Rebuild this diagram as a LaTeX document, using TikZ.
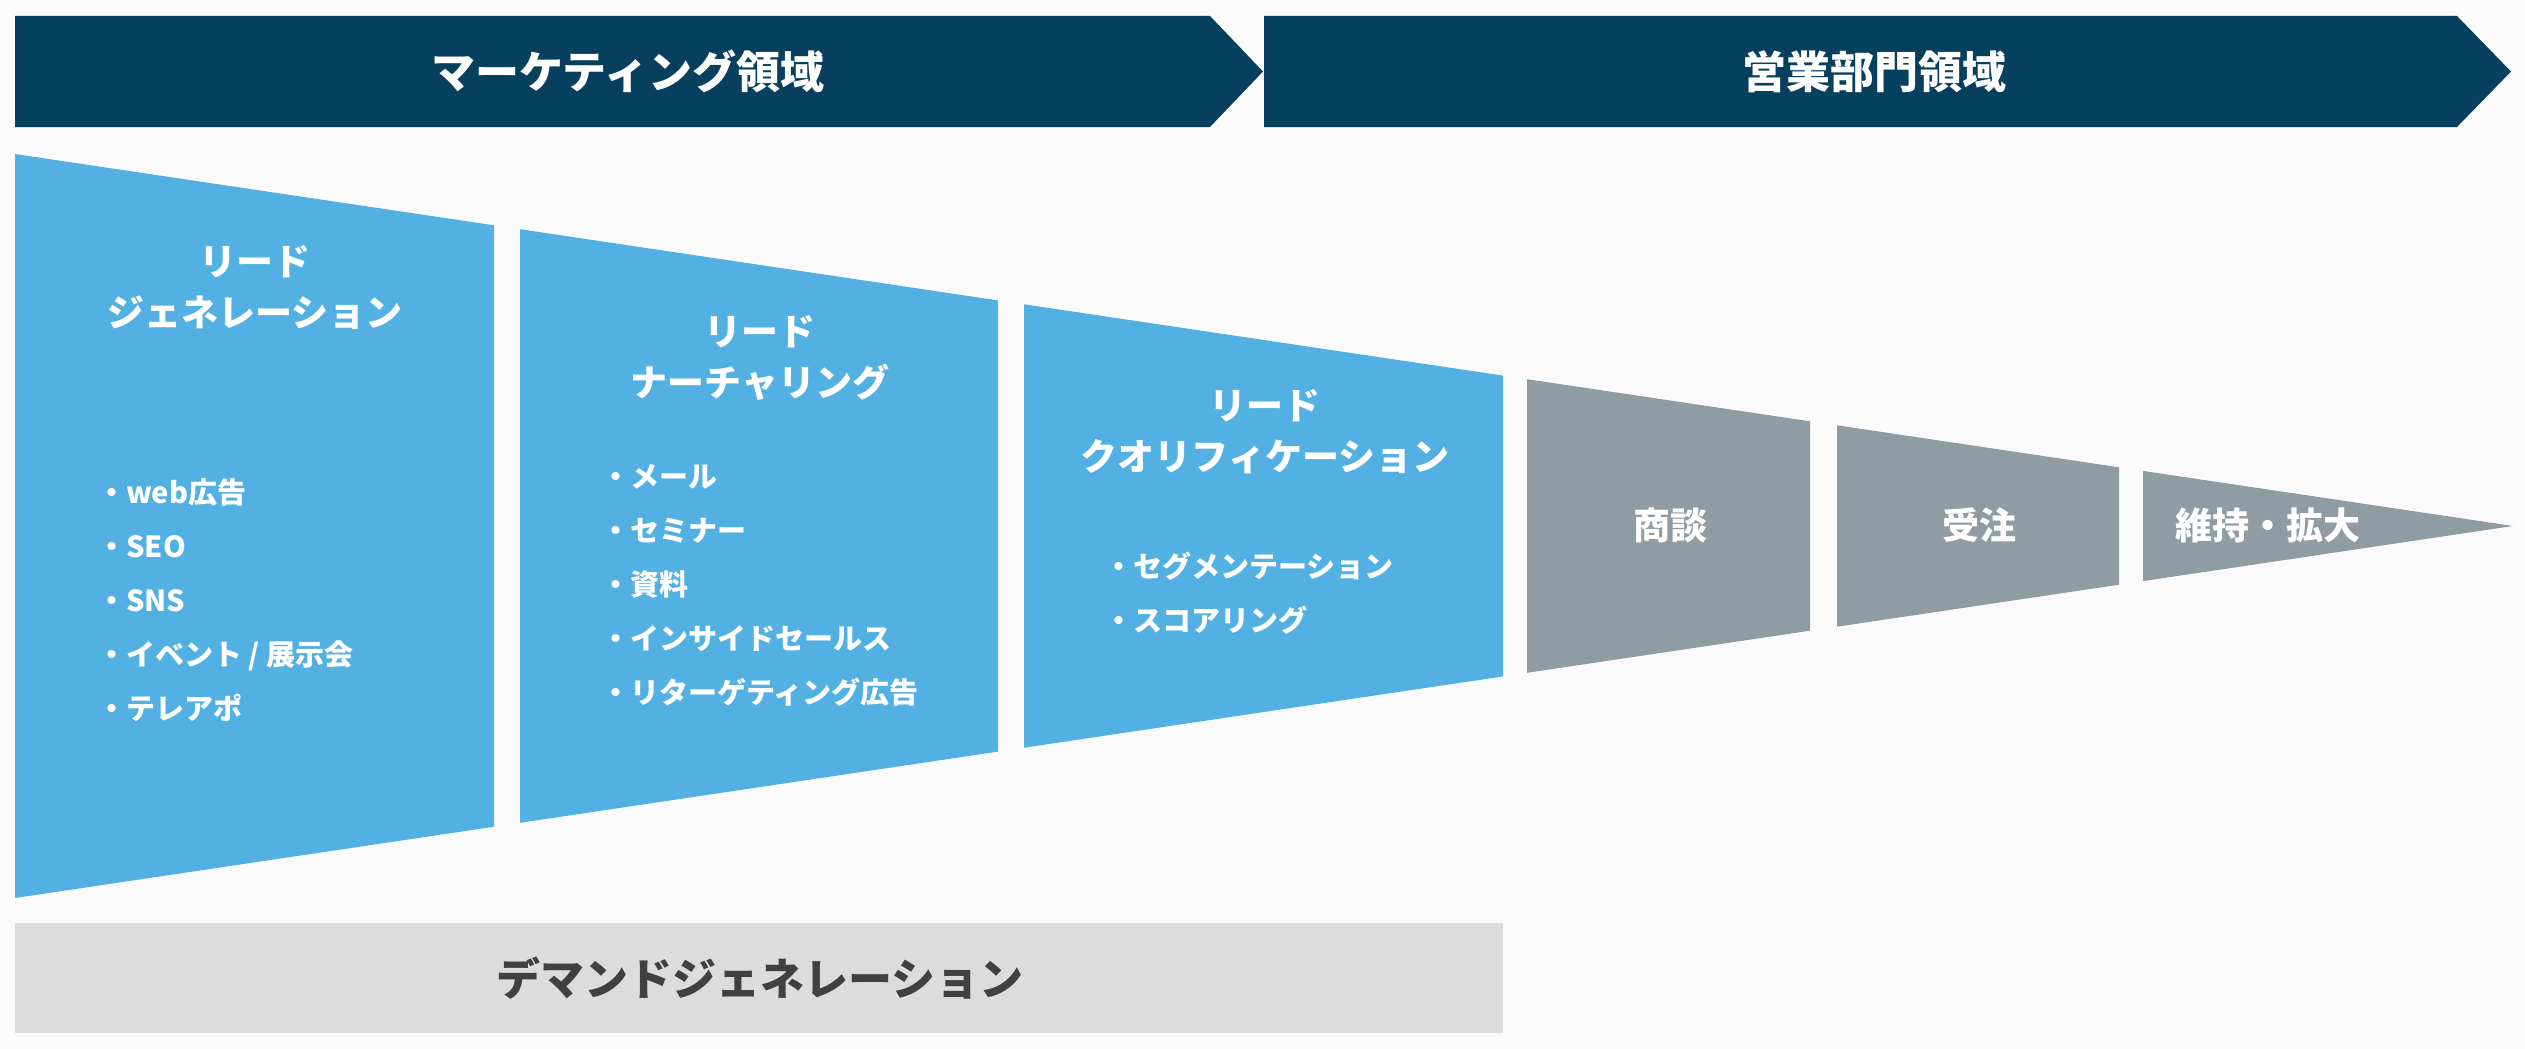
\documentclass[tikz,border=0pt]{standalone}
\usepackage{fontspec}
\setmainfont{Noto Sans CJK JP}
\definecolor{navy}{HTML}{07405F}
\definecolor{leadblue}{HTML}{52B1E2}
\definecolor{salesgray}{HTML}{8F9CA4}
\definecolor{demandgray}{HTML}{DCDCDC}
\definecolor{demandtext}{HTML}{404040}
\definecolor{paper}{HTML}{FAFAFA}

\begin{document}
\begin{tikzpicture}[
    x=1pt, y=-1pt,
    banner/.style={fill=navy},
    lead panel/.style={fill=leadblue},
    sales panel/.style={fill=salesgray},
    demand box/.style={fill=demandgray},
    banner text/.style={text=white, font=\fontsize{44}{52}\selectfont\bfseries},
    head text/.style={text=white, align=center, font=\fontsize{37}{51}\selectfont\bfseries},
    item text/.style={text=white, align=left, anchor=west, inner sep=0pt, font=\fontsize{29}{54}\selectfont\bfseries},
    demand text/.style={text=demandtext, font=\fontsize{44}{52}\selectfont\bfseries}
    ]

    % page
    \fill[paper] (0,0) rectangle (2525,1049);
    \useasboundingbox (0,0) rectangle (2525,1049);
    % banners
    \fill[banner] (15,16) -- (1210,16) -- (1263,71.5) -- (1210,127) -- (15,127) -- cycle;
    \fill[banner] (1264,16) -- (2457,16) -- (2511,71.5) -- (2457,127) -- (1264,127) -- cycle;
    \node[banner text] (mkt) at (628,71.5) {マーケティング領域};
    \node[banner text] (sales) at (1874,71.5) {営業部門領域};
    % funnel, lead side
    \fill[lead panel] (15,154) -- (494,225.3) -- (494,826.7) -- (15,898) -- cycle;
    \fill[lead panel] (520,229.2) -- (998,300.4) -- (998,751.6) -- (520,822.8) -- cycle;
    \fill[lead panel] (1024,304.3) -- (1503,375.6) -- (1503,676.4) -- (1024,747.7) -- cycle;
    % funnel, sales side
    \fill[sales panel] (1527,379.2) -- (1810,421.3) -- (1810,630.7) -- (1527,672.8) -- cycle;
    \fill[sales panel] (1837,425.3) -- (2119,467.3) -- (2119,584.7) -- (1837,626.7) -- cycle;
    \fill[sales panel] (2143,470.9) -- (2513,526) -- (2143,581.1) -- cycle;
    % panel texts
    \node[head text] (gen) at (255,287.5) {リード\\ジェネレーション};
    \node[item text] (genItems) at (97,600) {・web広告\\・SEO\\・SNS\\・イベント / 展示会\\・テレアポ};
    \node[head text] (nur) at (760,357.5) {リード\\ナーチャリング};
    \node[item text] (nurItems) at (601,585) {・メール\\・セミナー\\・資料\\・インサイドセールス\\・リターゲティング広告};
    \node[head text] (qual) at (1265,432) {リード\\クオリフィケーション};
    \node[item text] (qualItems) at (1104,593) {・セグメンテーション\\・スコアリング};
    \node[head text] (deal) at (1670,525) {商談};
    \node[head text] (order) at (1979,525) {受注};
    \node[head text] (keep) at (2268,525) {維持・拡大};
    % demand generation
    \fill[demand box] (15,923) rectangle (1503,1033);
    \node[demand text] (demand) at (760,978) {デマンドジェネレーション};
\end{tikzpicture}
\end{document}
